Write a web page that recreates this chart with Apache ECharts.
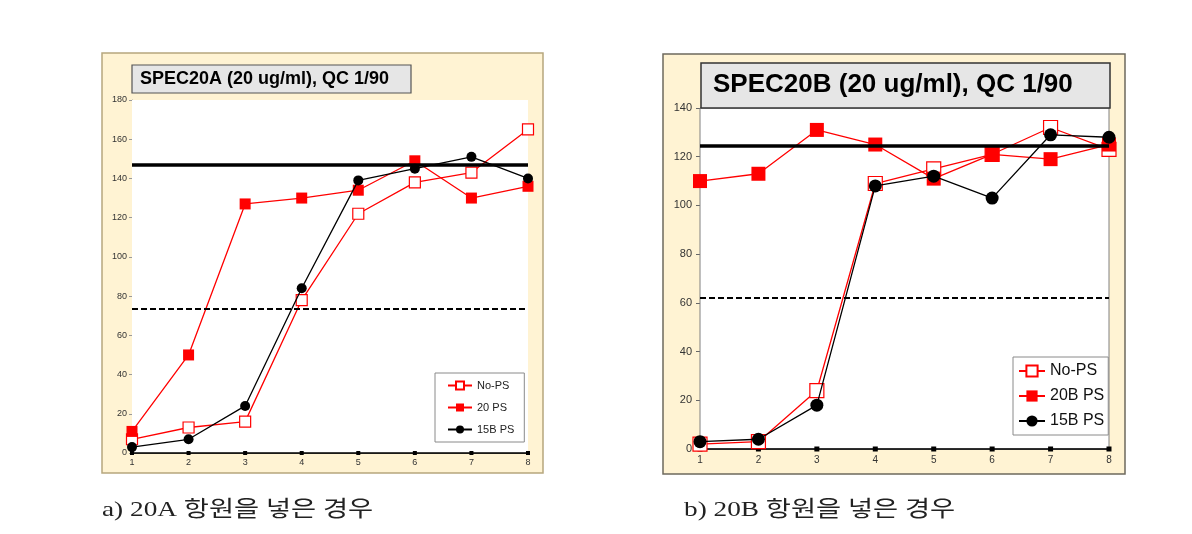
<!DOCTYPE html>
<html>
<head>
<meta charset="utf-8">
<script src="https://cdn.jsdelivr.net/npm/echarts@6/dist/echarts.min.js"></script>
<style>
html,body{margin:0;padding:0;background:#fff;}
#c{width:1192px;height:534px;}
</style>
</head>
<body>
<div id="c"></div>
<script>
// Shared categories (x)
const categories = ['1','2','3','4','5','6','7','8'];

// Chart a) SPEC20A
const titleA = 'SPEC20A (20 ug/ml), QC 1/90';
const captionA = 'a) 20A 항원을 넣은 경우';
const namesA = ['No-PS', '20 PS', '15B PS'];
const noPsA  = [7, 13, 16, 78, 122, 138, 143, 165];
const ps20A  = [11, 50, 127, 130, 134, 149, 130, 136];
const ps15BA = [3, 7, 24, 84, 139, 145, 151, 140];
const baseA  = [0, 0, 0, 0, 0, 0, 0, 0];
const upperA = 147;
const lowerA = 73.5;
const yMaxA = 180;

// Chart b) SPEC20B
const titleB = 'SPEC20B (20 ug/ml), QC 1/90';
const captionB = 'b) 20B 항원을 넣은 경우';
const namesB = ['No-PS', '20B PS', '15B PS'];
const noPsB  = [2, 3, 24, 109, 115, 121, 132, 123];
const ps20B  = [110, 113, 131, 125, 111, 121, 119, 125];
const ps15BB = [3, 4, 18, 108, 112, 103, 129, 128];
const baseB  = [0, 0, 0, 0, 0, 0, 0, 0];
const upperB = 124.5;
const lowerB = 62.3;
const yMaxB = 140;

const chart = echarts.init(document.getElementById('c'), null, {renderer:'canvas'});
const RED = '#ff0000';
const BLK = '#000000';
const FONT = 'Arial, "Liberation Sans", sans-serif';
const CAPFONT = '22px "Liberation Serif", "Noto Sans CJK KR", serif';

function mkSeries(gi, names, noPs, ps20, ps15, base, upper, lower, sq, circ, bsz, lw) {
  return [
    {
      name: 'base' + gi, type: 'line', xAxisIndex: gi, yAxisIndex: gi, data: base,
      symbol: 'rect', symbolSize: bsz, showSymbol: true,
      lineStyle: {color: BLK, width: 1.5}, itemStyle: {color: BLK},
      silent: true, z: 2, animation: false,
      markLine: {
        silent: true, symbol: 'none', label: {show: false}, animation: false,
        data: [
          {yAxis: upper, lineStyle: {color: BLK, width: 3.5, type: 'solid'}},
          {yAxis: lower, lineStyle: {color: BLK, width: 2, type: [6, 3]}}
        ]
      }
    },
    {
      name: names[0], type: 'line', xAxisIndex: gi, yAxisIndex: gi, data: noPs,
      symbol: 'rect', symbolSize: sq,
      lineStyle: {color: RED, width: lw}, itemStyle: {color: '#ffffff', borderColor: RED, borderWidth: 1.2},
      z: 3, animation: false
    },
    {
      name: names[1], type: 'line', xAxisIndex: gi, yAxisIndex: gi, data: ps20,
      symbol: 'rect', symbolSize: sq,
      lineStyle: {color: RED, width: lw}, itemStyle: {color: RED},
      z: 4, animation: false
    },
    {
      name: names[2], type: 'line', xAxisIndex: gi, yAxisIndex: gi, data: ps15,
      symbol: 'circle', symbolSize: circ,
      lineStyle: {color: BLK, width: lw}, itemStyle: {color: BLK},
      z: 5, animation: false
    }
  ];
}

const option = {
  backgroundColor: '#ffffff',
  animation: false,
  grid: [
    {left: 132, top: 100, width: 396, height: 353, show: true, backgroundColor: '#ffffff', borderWidth: 0, z: 1},
    {left: 700, top: 108, width: 409, height: 341, show: true, backgroundColor: '#ffffff', borderColor: '#808080', borderWidth: 1, z: 1}
  ],
  xAxis: [
    {
      type: 'category', gridIndex: 0, data: categories, boundaryGap: false,
      axisLine: {lineStyle: {color: BLK, width: 1.5}}, axisTick: {show: false},
      axisLabel: {color: '#333', fontSize: 9, fontFamily: FONT, margin: 5}
    },
    {
      type: 'category', gridIndex: 1, data: categories, boundaryGap: false,
      axisLine: {lineStyle: {color: BLK, width: 1.5}}, axisTick: {show: false},
      axisLabel: {color: '#333', fontSize: 10, fontFamily: FONT, margin: 6}
    }
  ],
  yAxis: [
    {
      type: 'value', gridIndex: 0, min: 0, max: yMaxA, interval: 20,
      axisLine: {show: true, lineStyle: {color: '#9a9a9a', width: 1}},
      axisTick: {show: true, length: 3, lineStyle: {color: '#9a9a9a'}},
      splitLine: {show: false},
      axisLabel: {color: '#333', fontSize: 9, fontFamily: FONT, margin: 5}
    },
    {
      type: 'value', gridIndex: 1, min: 0, max: yMaxB, interval: 20,
      axisLine: {show: true, lineStyle: {color: '#666', width: 1}},
      axisTick: {show: true, length: 4, lineStyle: {color: '#666'}},
      splitLine: {show: true, lineStyle: {color: '#a0a0a0', width: 1}},
      axisLabel: {color: '#333', fontSize: 11, fontFamily: FONT, margin: 8}
    }
  ],
  legend: [
    {
      data: namesA, left: 435, top: 373, orient: 'vertical',
      backgroundColor: '#ffffff', borderColor: '#8a8a8a', borderWidth: 1,
      padding: [7, 10, 7, 12], itemGap: 11, itemWidth: 24, itemHeight: 10,
      textStyle: {fontSize: 11, color: '#222', fontFamily: FONT}, z: 20
    },
    {
      data: namesB, left: 1013, top: 357, orient: 'vertical',
      backgroundColor: '#ffffff', borderColor: '#8a8a8a', borderWidth: 1,
      padding: [6, 4, 6, 5], itemGap: 9, itemWidth: 26, itemHeight: 14,
      textStyle: {fontSize: 16, color: '#111', fontFamily: FONT}, z: 20
    }
  ],
  series: [].concat(
    mkSeries(0, namesA, noPsA, ps20A, ps15BA, baseA, upperA, lowerA, 11, 10, 4, 1.3),
    mkSeries(1, namesB, noPsB, ps20B, ps15BB, baseB, upperB, lowerB, 14, 13, 5, 1.3)
  ),
  graphic: {
    elements: [
      {type: 'rect', z: -10, shape: {x: 102, y: 53, width: 441, height: 420},
       style: {fill: '#fff3d3', stroke: '#b7a77e', lineWidth: 1.5}},
      {type: 'rect', z: -10, shape: {x: 663, y: 54, width: 462, height: 420},
       style: {fill: '#fff3d3', stroke: '#6e6a5e', lineWidth: 1.5}},
      {type: 'rect', z: 50, shape: {x: 132, y: 65, width: 279, height: 28},
       style: {fill: '#e6e6e6', stroke: '#555', lineWidth: 1.2}},
      {type: 'text', z: 51, x: 140, y: 79,
       style: {text: titleA, font: 'bold 18px ' + FONT, fill: '#000', verticalAlign: 'middle'}},
      {type: 'rect', z: 50, shape: {x: 701, y: 63, width: 409, height: 45},
       style: {fill: '#e6e6e6', stroke: '#333', lineWidth: 1.5}},
      {type: 'text', z: 51, x: 713, y: 85,
       style: {text: titleB, font: 'bold 26px ' + FONT, fill: '#000', verticalAlign: 'middle'}},
      {type: 'text', z: 51, x: 102, y: 510, scaleX: 1.24,
       style: {text: captionA, font: CAPFONT, fill: '#222', verticalAlign: 'middle'}},
      {type: 'text', z: 51, x: 684, y: 510, scaleX: 1.24,
       style: {text: captionB, font: CAPFONT, fill: '#222', verticalAlign: 'middle'}}
    ]
  }
};
chart.setOption(option);
</script>
</body>
</html>
